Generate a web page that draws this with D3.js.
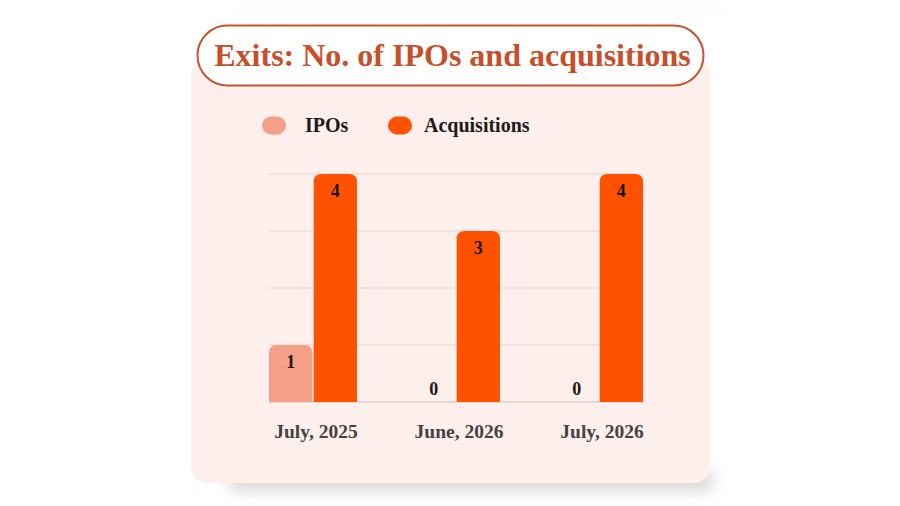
<!DOCTYPE html>
<html>
<head>
<meta charset="utf-8">
<script src="https://cdn.jsdelivr.net/npm/d3@7"></script>
<style>
  html, body { margin: 0; padding: 0; background: #fff; }
  svg { display: block; font-family: 'Liberation Serif', 'DejaVu Serif', serif; }
</style>
</head>
<body>
<div class="exitsChart"></div>
<script>
// chart data
const months = ['July, 2025', 'June, 2026', 'July, 2026']
const seriesNames = ['IPOs', 'Acquisitions']
const ipos = [1, 0, 0]
const acquisitions = [4, 3, 4]
const yTicks = [0, 1, 2, 3, 4]
const titleText = 'Exits: No. of IPOs and acquisitions'

const colors = { IPOs: '#f59f88', Acquisitions: '#fe5200' }

let width = 900,
	height = 506

let svg = d3
	.select('.exitsChart')
	.append('svg')
	.attr('width', width)
	.attr('height', height)

let defs = svg.append('defs')
defs
	.append('filter')
	.attr('id', 'soft')
	.attr('x', '-20%')
	.attr('y', '-100%')
	.attr('width', '140%')
	.attr('height', '300%')
	.append('feGaussianBlur')
	.attr('stdDeviation', 7)

// faint shadows around the card
svg
	.append('rect')
	.attr('x', 235)
	.attr('y', 4)
	.attr('width', 490)
	.attr('height', 10)
	.attr('fill', '#000')
	.attr('opacity', 0.012)
	.attr('filter', 'url(#soft)')
svg
	.append('rect')
	.attr('x', 228)
	.attr('y', 468)
	.attr('width', 486)
	.attr('height', 24)
	.attr('rx', 10)
	.attr('fill', '#8a8a8a')
	.attr('opacity', 0.3)
	.attr('filter', 'url(#soft)')

// card
svg
	.append('rect')
	.attr('x', 191)
	.attr('y', 60)
	.attr('width', 519)
	.attr('height', 423)
	.attr('rx', 16)
	.attr('fill', '#fdefeb')

// title pill
svg
	.append('rect')
	.attr('x', 197.5)
	.attr('y', 25.5)
	.attr('width', 506)
	.attr('height', 60)
	.attr('rx', 30)
	.attr('fill', '#fff')
	.attr('stroke', '#c9522d')
	.attr('stroke-width', 2)
svg
	.append('text')
	.attr('x', 452.5)
	.attr('y', 66)
	.attr('text-anchor', 'middle')
	.attr('font-size', 32)
	.attr('font-weight', 700)
	.attr('fill', '#c84f2b')
	.text(titleText)

// legend
let legendX = d3.scalePoint().domain(seriesNames).range([262, 388])
let legend = svg
	.selectAll('.legendItem')
	.data(seriesNames)
	.enter()
	.append('g')
	.attr('class', 'legendItem')
	.attr('transform', (d) => 'translate(' + legendX(d) + ',116.5)')
legend
	.append('rect')
	.attr('width', 24)
	.attr('height', 18)
	.attr('rx', 9)
	.attr('fill', (d) => colors[d])
legend
	.append('text')
	.attr('x', (d, i) => (i === 0 ? 43 : 36))
	.attr('y', 15.5)
	.attr('font-size', 20)
	.attr('font-weight', 700)
	.attr('fill', '#1b1b1b')
	.text((d) => d)

// scales
let x0 = d3.scaleBand().domain(months).range([269, 643]).paddingInner(0.385)
let x1 = d3
	.scaleBand()
	.domain(seriesNames)
	.range([0, x0.bandwidth()])
	.paddingInner(0.03)
let y = d3.scaleLinear().domain([0, 4]).range([402, 174])

// grid lines
svg
	.append('g')
	.selectAll('line')
	.data(yTicks)
	.enter()
	.append('line')
	.attr('x1', 269)
	.attr('x2', 643)
	.attr('y1', (d) => y(d))
	.attr('y2', (d) => y(d))
	.attr('stroke', (d) => (d === 0 ? '#ddd2ce' : '#ebdfdb'))
	.attr('stroke-width', 1.5)

// rounded-top bar path
function topRounded(bx, by, bw, bh, r) {
	r = Math.min(r, bh, bw / 2)
	return (
		'M' + bx + ',' + (by + bh) +
		'V' + (by + r) +
		'Q' + bx + ',' + by + ' ' + (bx + r) + ',' + by +
		'H' + (bx + bw - r) +
		'Q' + (bx + bw) + ',' + by + ' ' + (bx + bw) + ',' + (by + r) +
		'V' + (by + bh) + 'Z'
	)
}

let rows = months.map((m, i) => ({
	month: m,
	values: [
		{ key: 'IPOs', value: ipos[i] },
		{ key: 'Acquisitions', value: acquisitions[i] },
	],
}))

let groups = svg
	.selectAll('.group')
	.data(rows)
	.enter()
	.append('g')
	.attr('class', 'group')
	.attr('transform', (d) => 'translate(' + x0(d.month) + ',0)')

groups
	.selectAll('path')
	.data((d) => d.values.filter((v) => v.value > 0))
	.enter()
	.append('path')
	.attr('d', (d) =>
		topRounded(x1(d.key), y(d.value), x1.bandwidth(), y(0) - y(d.value), 8)
	)
	.attr('fill', (d) => colors[d.key])

groups
	.selectAll('.valueLabel')
	.data((d) => d.values)
	.enter()
	.append('text')
	.attr('class', 'valueLabel')
	.attr('x', (d) => x1(d.key) + x1.bandwidth() / 2)
	.attr('y', (d) => (d.value > 0 ? y(d.value) + 23 : y(0) - 7))
	.attr('text-anchor', 'middle')
	.attr('font-size', 18)
	.attr('font-weight', 700)
	.attr('fill', '#1c1714')
	.text((d) => d.value)

// x axis labels
svg
	.append('g')
	.selectAll('text')
	.data(months)
	.enter()
	.append('text')
	.attr('x', (d) => x0(d) + x0.bandwidth() / 2 + 3)
	.attr('y', 438)
	.attr('text-anchor', 'middle')
	.attr('font-size', 19.5)
	.attr('font-weight', 700)
	.attr('fill', '#454241')
	.text((d) => d)
</script>
</body>
</html>
